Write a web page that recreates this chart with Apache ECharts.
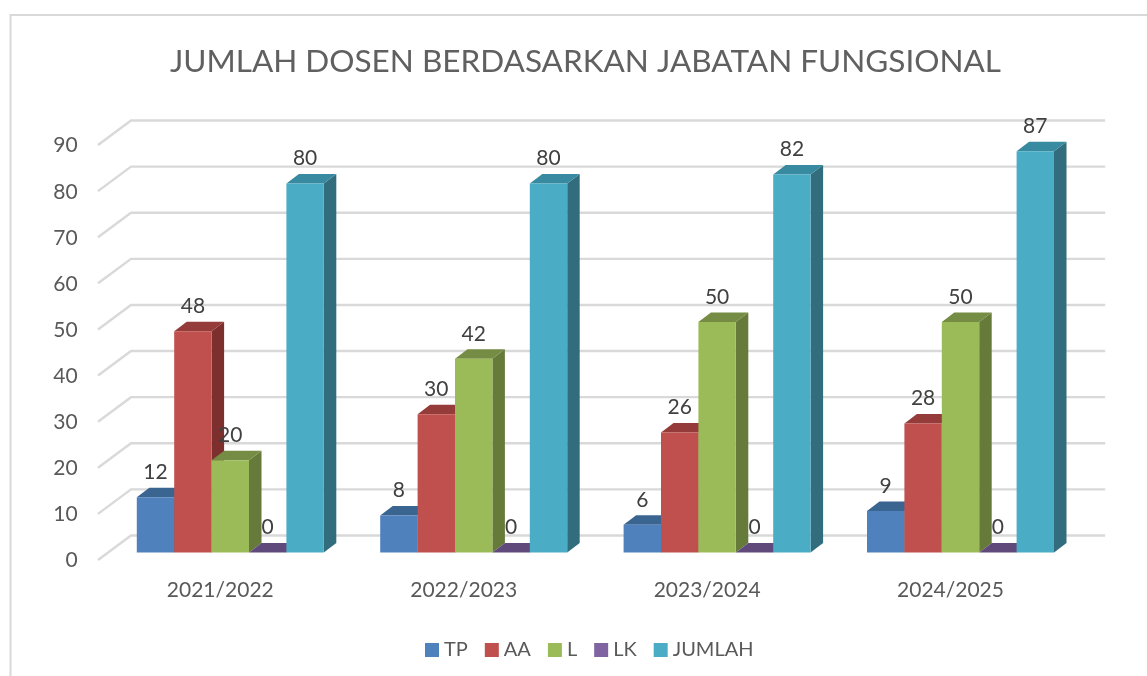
<!DOCTYPE html>
<html><head><meta charset="utf-8">
<style>html,body{margin:0;padding:0;background:#fff}#c{width:1147px;height:676px}</style>
<script src="https://cdn.jsdelivr.net/npm/echarts@6/dist/echarts.min.js"></script>
</head><body><div id="c"></div>
<script>
const categories = ['2021/2022','2022/2023','2023/2024','2024/2025'];
const seriesNames = ['TP','AA','L','LK','JUMLAH'];
const TP = [12,8,6,9];
const AA = [48,30,26,28];
const L = [20,42,50,50];
const LK = [0,0,0,0];
const JUMLAH = [80,80,82,87];
const yTicks = [0,10,20,30,40,50,60,70,80,90];

const values = [TP,AA,L,LK,JUMLAH];
const faces = [
  {front:'#4F81BD',top:'#3B6591',side:'#2F4F75'},
  {front:'#C0504D',top:'#953B39',side:'#7D2F2D'},
  {front:'#9BBB59',top:'#748C43',side:'#667A3A'},
  {front:'#8064A2',top:'#604A7B',side:'#4F3D66'},
  {front:'#4BACC6',top:'#388AA0',side:'#316D7C'}
];
const FONT = 'Lato, sans-serif';
const BAR_FRAC = 37.4/243.4, DX = 12.5, DY = 9.5;

function barRenderer(si){
  return function(params, api){
    const p = api.coord([api.value(0), api.value(1)]);
    const base = api.coord([api.value(0), 0]);
    const band = api.size([1,0])[0];
    const w = band*BAR_FRAC;
    const x0 = p[0] + (si-2.5)*w, x1 = x0+w, yt = p[1], yb = base[1];
    const f = faces[si];
    return {type:'group',children:[
      {type:'polygon',shape:{points:[[x1,yb],[x1+DX,yb-DY],[x1+DX,yt-DY],[x1,yt]]},style:{fill:f.side}},
      {type:'polygon',shape:{points:[[x0,yt],[x1,yt],[x1+DX,yt-DY],[x0+DX,yt-DY]]},style:{fill:f.top}},
      {type:'rect',shape:{x:x0,y:yt,width:w,height:yb-yt},style:{fill:f.front}}
    ]};
  };
}
const labelData = [];
values.forEach((arr,si)=>arr.forEach((v,ci)=>labelData.push([ci,v,si])));

const option = {
  animation:false,
  backgroundColor:'#fff',
  title:{text:'JUMLAH DOSEN BERDASARKAN JABATAN FUNGSIONAL',left:580.5,top:41,textAlign:'center',
    textStyle:{fontFamily:FONT,fontWeight:400,fontSize:31.5,color:'#606060'}},
  legend:{data:seriesNames,left:420,top:635,itemWidth:14,itemHeight:14,itemGap:17,icon:'rect',
    textStyle:{fontFamily:FONT,fontSize:20,color:'#595959',padding:[0,0,3,0]}},
  grid:[
    {left:108.6,right:64.8,top:137.5,bottom:123.5},
    {left:98.6,right:74.8,top:145.7,bottom:115.6}
  ],
  xAxis:[
    {type:'category',gridIndex:0,data:categories,axisLine:{show:false},axisTick:{show:false},axisLabel:{show:false}},
    {type:'category',gridIndex:1,data:categories,axisLine:{show:false},axisTick:{show:false},
      axisLabel:{fontFamily:FONT,fontSize:21,color:'#595959',margin:19}}
  ],
  yAxis:[
    {type:'value',gridIndex:0,min:0,max:90,interval:10,axisLine:{show:false},axisTick:{show:false},splitLine:{show:false},axisLabel:{show:false}},
    {type:'value',gridIndex:1,min:0,max:90,interval:10,axisLine:{show:false},axisTick:{show:false},splitLine:{show:false},
      axisLabel:{fontFamily:FONT,fontSize:21,color:'#595959',margin:21,verticalAlign:'middle'}}
  ],
  graphic:[{type:'rect',z:-10,shape:{x:10.5,y:15,width:1200,height:700},style:{fill:'none',stroke:'#D9D9D9',lineWidth:2}}],
  series:[
    {type:'custom',name:'grid',silent:true,z:1,encode:{x:0,y:1},data:yTicks.map(v=>[0,v]),
      renderItem(params,api){
        const y = api.coord([0,api.value(1)])[1];
        const c = params.coordSys;
        return {type:'polyline',shape:{points:[[c.x-10.6,y+7.5],[c.x+22.4,y-17],[c.x+c.width+23,y-17]]},
          style:{fill:'none',stroke:'#D9D9D9',lineWidth:2.4}};
      }},
    ...seriesNames.map((n,si)=>({type:'custom',name:n,z:2+si,encode:{x:0,y:1},
      itemStyle:{color:faces[si].front},
      data:values[si].map((v,ci)=>[ci,v]),renderItem:barRenderer(si)})),
    {type:'custom',name:'labels',silent:true,z:20,encode:{x:0,y:1},data:labelData,
      renderItem(params,api){
        const si = api.value(2);
        const p = api.coord([api.value(0),api.value(1)]);
        const w = api.size([1,0])[0]*BAR_FRAC;
        return {type:'text',style:{text:String(api.value(1)),x:p[0]+(si-2)*w,y:p[1]-25,align:'center',verticalAlign:'middle',
          fontFamily:FONT,fontSize:21,fill:'#404040'}};
      }}
  ]
};
const chart = echarts.init(document.getElementById('c'),null,{renderer:'canvas'});
chart.setOption(option);
</script></body></html>
